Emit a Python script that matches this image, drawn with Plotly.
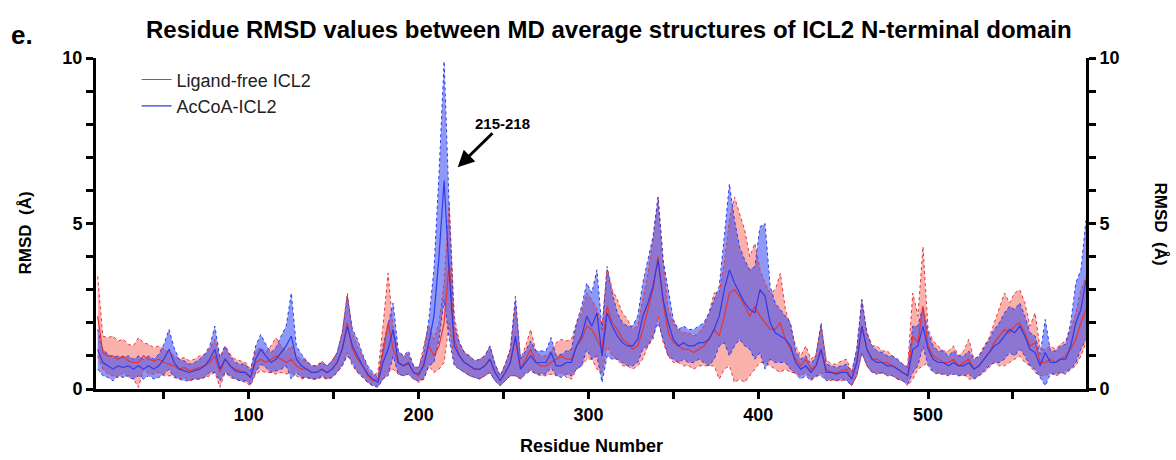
import plotly.graph_objects as go

# Residue numbers sampled along the N-terminal domain
residues = list(range(11, 594, 3))

# Ligand-free ICL2: mean RMSD and standard deviation per residue (Å)
free_mean = [
    2.2, 1.1, 1.0, 1.0, 0.9, 1.0, 0.85, 0.8, 0.8, 1.0,
    0.9, 0.85, 0.9, 0.8, 0.75, 0.7, 0.6, 0.65, 0.55, 0.6,
    0.65, 0.7, 0.8, 1.0, 0.5, 0.9, 0.7, 0.6, 0.55, 0.5,
    0.35, 0.8, 0.9, 0.8, 0.9, 1.0, 0.9, 0.8, 0.9, 0.7,
    0.6, 0.6, 0.5, 0.5, 0.6, 0.5, 0.6, 0.8, 1.2, 2.0,
    1.2, 0.9, 0.7, 0.4, 0.25, 0.3, 1.1, 2.0, 1.2, 0.8,
    0.7, 0.75, 0.5, 0.4, 0.8, 1.3, 1.0, 1.3, 2.0, 3.8,
    1.5, 1.0, 0.8, 0.7, 0.6, 0.6, 0.7, 0.9, 0.5, 0.25,
    0.5, 0.8, 1.5, 0.6, 0.9, 1.2, 0.8, 0.7, 0.7, 0.8,
    0.9, 1.0, 0.9, 0.9, 1.3, 1.5, 1.9, 1.8, 1.5, 1.2,
    2.5, 2.0, 1.8, 1.5, 1.4, 1.2, 1.3, 1.8, 2.4, 3.0,
    4.0, 2.6, 1.7, 1.4, 1.3, 1.2, 1.2, 1.1, 1.2, 1.3,
    1.5, 1.8, 1.6, 2.2, 2.9, 3.0, 2.8, 2.5, 2.2, 2.5,
    2.2, 2.0, 1.8, 1.8, 2.0, 1.5, 1.2, 0.9, 0.7, 0.9,
    0.6, 0.7, 1.2, 0.6, 0.5, 0.5, 0.55, 0.6, 0.3, 0.8,
    1.9, 1.2, 0.9, 0.9, 0.8, 0.8, 0.7, 0.6, 0.5, 0.4,
    1.6, 1.4, 2.5, 1.3, 1.0, 0.9, 0.8, 0.8, 0.9, 0.7,
    0.8, 0.9, 0.6, 0.7, 0.9, 1.1, 1.4, 1.6, 1.8, 1.7,
    1.9, 2.0, 1.7, 1.3, 1.4, 0.8, 0.8, 0.9, 0.8, 0.9,
    1.0, 1.2, 1.5, 2.0, 2.4,
]
free_sd = [
    1.2, 0.5, 0.55, 0.6, 0.55, 0.5, 0.5, 0.5, 0.75, 0.4,
    0.45, 0.4, 0.4, 0.4, 0.35, 0.3, 0.3, 0.3, 0.3, 0.3,
    0.35, 0.35, 0.4, 0.5, 0.45, 0.4, 0.35, 0.3, 0.3, 0.3,
    0.25, 0.35, 0.35, 0.3, 0.4, 0.55, 0.4, 0.35, 0.4, 0.3,
    0.3, 0.25, 0.2, 0.2, 0.25, 0.2, 0.25, 0.3, 0.5, 0.9,
    0.5, 0.4, 0.3, 0.2, 0.15, 0.2, 0.8, 1.5, 0.6, 0.35,
    0.3, 0.3, 0.2, 0.2, 0.5, 0.6, 0.5, 0.7, 1.2, 1.8,
    0.7, 0.4, 0.3, 0.3, 0.25, 0.3, 0.3, 0.4, 0.25, 0.15,
    0.25, 0.4, 1.1, 0.3, 0.4, 0.6, 0.35, 0.3, 0.3, 0.35,
    0.5, 0.5, 0.55, 0.6, 0.7, 0.8, 1.0, 0.9, 0.9, 0.7,
    1.2, 1.0, 0.9, 0.8, 0.7, 0.6, 0.6, 0.9, 1.1, 1.5,
    1.8, 1.2, 0.7, 0.6, 0.5, 0.5, 0.5, 0.5, 0.5, 0.6,
    0.8, 1.1, 1.3, 1.6, 2.2, 2.8, 2.5, 2.3, 1.8, 1.9,
    1.4, 1.2, 1.1, 1.2, 1.5, 0.9, 0.7, 0.4, 0.3, 0.4,
    0.3, 0.35, 0.7, 0.3, 0.25, 0.25, 0.3, 0.3, 0.2, 0.4,
    0.8, 0.5, 0.4, 0.4, 0.35, 0.35, 0.3, 0.3, 0.25, 0.3,
    1.3, 0.8, 1.8, 0.5, 0.45, 0.4, 0.35, 0.35, 0.4, 0.3,
    0.35, 0.6, 0.3, 0.3, 0.4, 0.45, 0.6, 0.9, 1.1, 0.9,
    1.0, 1.0, 0.9, 0.6, 0.9, 0.4, 0.4, 0.4, 0.4, 0.45,
    0.45, 0.6, 0.8, 1.0, 1.0,
]

# AcCoA-bound ICL2: mean RMSD and standard deviation per residue (Å)
accoa_mean = [
    1.2, 0.8, 0.7, 0.6, 0.7, 0.65, 0.7, 0.6, 0.7, 0.6,
    0.7, 0.6, 0.7, 0.9, 1.2, 0.8, 0.6, 0.55, 0.5, 0.55,
    0.6, 0.7, 0.9, 1.2, 0.6, 0.9, 0.7, 0.55, 0.5, 0.5,
    0.35, 0.9, 1.2, 1.0, 0.8, 0.9, 1.1, 1.3, 1.6, 0.9,
    0.7, 0.6, 0.5, 0.5, 0.6, 0.5, 0.6, 0.8, 1.2, 1.9,
    1.3, 1.0, 0.7, 0.45, 0.3, 0.2, 0.8, 1.2, 1.8, 0.8,
    0.7, 0.8, 0.5, 0.45, 0.7, 1.4, 2.2, 4.0, 6.3, 3.5,
    1.3, 1.0, 0.8, 0.7, 0.6, 0.6, 0.7, 0.9, 0.5, 0.25,
    0.5, 0.8, 1.6, 0.6, 0.8, 1.0, 0.8, 0.8, 0.8, 1.1,
    0.7, 0.7, 0.8, 0.8, 1.3, 1.6, 2.2, 1.9, 2.3, 1.0,
    2.3, 1.9, 1.6, 1.4, 1.3, 1.3, 1.5, 2.2, 2.6, 3.1,
    3.9, 2.7, 2.0, 1.5, 1.3, 1.4, 1.3, 1.3, 1.4, 1.4,
    1.5, 1.8, 2.2, 3.0, 3.6, 3.2, 2.9, 2.6, 2.4, 2.3,
    3.0, 2.8, 2.0, 1.7, 1.6, 1.5, 1.3, 0.8, 0.6, 0.7,
    0.5, 0.7, 1.2, 0.5, 0.5, 0.45, 0.5, 0.5, 0.3, 0.8,
    1.9, 1.2, 0.9, 0.8, 0.8, 0.7, 0.7, 0.6, 0.5, 0.4,
    1.2, 1.3, 1.9, 1.2, 0.9, 0.8, 0.8, 0.7, 0.8, 0.7,
    0.7, 0.8, 0.6, 0.7, 0.9, 1.1, 1.3, 1.4, 1.6, 1.8,
    1.7, 1.9, 1.6, 1.2, 1.1, 0.7, 1.1, 0.8, 0.8, 0.9,
    0.9, 1.3, 2.0, 2.4, 3.3,
]
accoa_sd = [
    0.6, 0.4, 0.35, 0.35, 0.3, 0.3, 0.3, 0.3, 0.3, 0.3,
    0.3, 0.3, 0.35, 0.45, 0.6, 0.45, 0.3, 0.3, 0.25, 0.25,
    0.3, 0.35, 0.4, 0.7, 0.35, 0.4, 0.3, 0.25, 0.25, 0.25,
    0.2, 0.4, 0.45, 0.35, 0.3, 0.35, 0.5, 0.6, 1.3, 0.4,
    0.35, 0.25, 0.2, 0.2, 0.2, 0.2, 0.25, 0.3, 0.5, 0.9,
    0.5, 0.5, 0.35, 0.25, 0.2, 0.15, 0.5, 0.8, 0.8, 0.35,
    0.3, 0.35, 0.2, 0.2, 0.4, 0.7, 1.4, 2.5, 3.6, 2.0,
    0.6, 0.4, 0.3, 0.3, 0.25, 0.3, 0.3, 0.4, 0.25, 0.15,
    0.25, 0.4, 1.2, 0.3, 0.35, 0.45, 0.35, 0.35, 0.35, 0.45,
    0.3, 0.35, 0.35, 0.4, 0.7, 0.9, 1.0, 1.0, 1.3, 0.8,
    1.3, 1.0, 0.7, 0.6, 0.6, 0.6, 0.7, 1.0, 1.3, 1.5,
    1.9, 1.2, 1.0, 0.6, 0.5, 0.5, 0.5, 0.5, 0.5, 0.6,
    0.8, 0.9, 0.9, 1.6, 2.6, 1.9, 1.4, 1.3, 1.2, 1.4,
    1.9, 2.2, 1.1, 0.9, 0.8, 0.7, 0.7, 0.35, 0.3, 0.3,
    0.25, 0.3, 0.8, 0.25, 0.2, 0.2, 0.2, 0.25, 0.2, 0.4,
    0.8, 0.5, 0.4, 0.35, 0.3, 0.3, 0.3, 0.3, 0.25, 0.25,
    0.7, 0.6, 0.6, 0.5, 0.4, 0.35, 0.35, 0.3, 0.35, 0.3,
    0.3, 0.35, 0.3, 0.3, 0.35, 0.4, 0.5, 0.6, 0.7, 0.7,
    0.7, 0.7, 0.6, 0.5, 0.5, 0.35, 1.0, 0.35, 0.35, 0.4,
    0.45, 0.7, 1.2, 1.2, 1.8,
]

x_ticks = [50, 100, 150, 200, 250, 300, 350, 400, 450, 500, 550]
x_tick_text = ["", "100", "", "200", "", "300", "", "400", "", "500", ""]
y_ticks = [0, 1, 2, 3, 4, 5, 6, 7, 8, 9, 10]
y_tick_text = ["0", "", "", "", "", "5", "", "", "", "", "10"]

FONT = "Liberation Sans, Arial, Helvetica, sans-serif"
RED_LINE = "rgb(232,52,52)"
RED_FILL = "rgba(245,100,90,0.5)"
BLUE_LINE = "rgb(48,58,232)"
BLUE_FILL = "rgba(50,70,240,0.55)"

series = [
    ("Ligand-free ICL2", free_mean, free_sd, RED_LINE, RED_FILL),
    ("AcCoA-ICL2", accoa_mean, accoa_sd, BLUE_LINE, BLUE_FILL),
]

fig = go.Figure()

# Shaded ±SD bands
for name, mean, sd, line_c, fill_c in series:
    lower = [max(m - s, 0.0) for m, s in zip(mean, sd)]
    upper = [m + s for m, s in zip(mean, sd)]
    fig.add_trace(go.Scatter(x=residues, y=lower, mode="lines",
                             line=dict(width=0, color=line_c),
                             showlegend=False, hoverinfo="skip"))
    fig.add_trace(go.Scatter(x=residues, y=upper, mode="lines",
                             line=dict(width=0, color=line_c),
                             fill="tonexty", fillcolor=fill_c,
                             showlegend=False, hoverinfo="skip"))

# Dotted band edges
for name, mean, sd, line_c, fill_c in series:
    lower = [max(m - s, 0.0) for m, s in zip(mean, sd)]
    upper = [m + s for m, s in zip(mean, sd)]
    for edge in (lower, upper):
        fig.add_trace(go.Scatter(x=residues, y=edge, mode="lines",
                                 line=dict(width=1, color=line_c, dash="dot"),
                                 showlegend=False, hoverinfo="skip"))

# Mean lines
for name, mean, sd, line_c, fill_c in series:
    fig.add_trace(go.Scatter(x=residues, y=mean, mode="lines", name=name,
                             line=dict(width=1.2, color=line_c)))

# Empty trace that carries the mirrored right-hand axis
fig.add_trace(go.Scatter(x=[None], y=[None], yaxis="y2", showlegend=False,
                         hoverinfo="skip"))

axis_common = dict(showgrid=False, zeroline=False, showline=True,
                   linecolor="black", linewidth=3, ticks="outside",
                   ticklen=7, tickwidth=3, tickcolor="black",
                   tickfont=dict(family=FONT, size=18, color="black",
                                 weight="bold"))

fig.update_layout(
    width=1176, height=460,
    margin=dict(l=96, r=90, t=58, b=71),
    paper_bgcolor="white", plot_bgcolor="white",
    font=dict(family=FONT, color="black"),
    xaxis=dict(range=[10, 593], tickvals=x_ticks, ticktext=x_tick_text,
               **axis_common),
    yaxis=dict(range=[0, 10], tickvals=y_ticks, ticktext=y_tick_text,
               **axis_common),
    yaxis2=dict(range=[0, 10], tickvals=y_ticks, ticktext=y_tick_text,
                overlaying="y", side="right", anchor="x", **axis_common),
    legend=dict(x=0.041, y=0.99, xanchor="left", yanchor="top",
                traceorder="normal",
                bgcolor="rgba(0,0,0,0)", tracegroupgap=0,
                font=dict(family=FONT, size=18, color="#222")),
    showlegend=True,
)

annotations = [
    dict(text="Residue RMSD values between MD average structures of ICL2 N-terminal domain",
         xref="paper", yref="paper", x=0.518, y=1, yshift=29, showarrow=False,
         xanchor="center", yanchor="middle",
         font=dict(family=FONT, size=24, color="black", weight="bold")),
    dict(text="e.", xref="paper", yref="paper", x=0, xshift=-87, y=1, yshift=23,
         showarrow=False, xanchor="left", yanchor="middle",
         font=dict(family=FONT, size=26, color="black", weight="bold")),
    dict(text="Residue Number", xref="paper", yref="paper", x=0.5, y=0,
         yshift=-57, showarrow=False, xanchor="center", yanchor="middle",
         font=dict(family=FONT, size=18, color="black", weight="bold")),
    dict(text="RMSD  (Å)", xref="paper", yref="paper", x=0, xshift=-71,
         y=0.47, showarrow=False, textangle=-90,
         xanchor="center", yanchor="middle",
         font=dict(family=FONT, size=17, color="black", weight="bold")),
    dict(text="RMSD  (Å)", xref="paper", yref="paper", x=1, xshift=74,
         y=0.5, showarrow=False, textangle=90,
         xanchor="center", yanchor="middle",
         font=dict(family=FONT, size=17, color="black", weight="bold")),
    dict(text="215-218", x=223, y=6.7, xref="x", yref="y",
         ax=45, ay=-44, showarrow=True, arrowhead=2, arrowsize=1.1,
         arrowwidth=3, arrowcolor="black",
         font=dict(family=FONT, size=15, color="black", weight="bold")),
]
fig.update_layout(annotations=annotations)

fig.write_html("out.html")
